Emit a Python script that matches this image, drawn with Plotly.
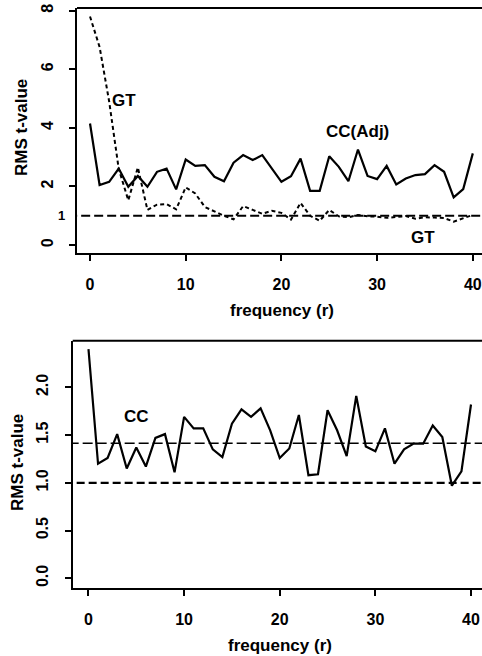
import plotly.graph_objects as go

freq = list(range(41))

cc_adj = [4.15, 2.05, 2.16, 2.61, 1.99, 2.36, 1.99, 2.50, 2.61, 1.90,
          2.92, 2.70, 2.73, 2.33, 2.18, 2.81, 3.07, 2.90, 3.07, 2.61,
          2.16, 2.35, 2.95, 1.85, 1.85, 3.03, 2.67, 2.18, 3.26, 2.36,
          2.25, 2.70, 2.07, 2.27, 2.39, 2.42, 2.73, 2.50, 1.63, 1.91, 3.13]

gt = [7.80, 6.76, 4.90, 2.60, 1.53, 2.65, 1.20, 1.38, 1.40, 1.22,
      1.97, 1.76, 1.30, 1.15, 1.00, 0.88, 1.33, 1.20, 1.07, 1.17,
      1.10, 0.87, 1.44, 1.00, 0.83, 1.20, 0.98, 0.95, 1.03, 0.98,
      0.97, 0.93, 0.96, 0.99, 0.90, 0.95, 0.94, 0.92, 0.80, 0.92, 1.03]

cc = [2.40, 1.20, 1.26, 1.51, 1.15, 1.37, 1.17, 1.47, 1.51, 1.11,
      1.69, 1.57, 1.57, 1.35, 1.27, 1.62, 1.77, 1.69, 1.78, 1.55,
      1.26, 1.36, 1.71, 1.08, 1.09, 1.76, 1.55, 1.28, 1.91, 1.38,
      1.33, 1.57, 1.20, 1.35, 1.41, 1.41, 1.60, 1.48, 0.97, 1.12, 1.82]

ref_top = 1.0
ref_bottom = [1.414, 1.0]

top_yticks = [0, 2, 4, 6, 8]
bottom_yticks = [0.0, 0.5, 1.0, 1.5, 2.0]
xticks = [0, 10, 20, 30, 40]

W, H = 482, 656
FONT = "Liberation Sans, Arial, Helvetica, sans-serif"

def px(x):
    return x / W

def py(y):
    return 1 - y / H

fig = go.Figure()

# top panel
fig.add_trace(go.Scatter(x=freq, y=cc_adj, mode="lines", line=dict(color="black", width=2.2),
                         xaxis="x", yaxis="y", showlegend=False))
fig.add_trace(go.Scatter(x=freq, y=gt, mode="lines", line=dict(color="black", width=2, dash="4px,3px"),
                         xaxis="x", yaxis="y", showlegend=False))
fig.add_trace(go.Scatter(x=[-5, 50], y=[ref_top, ref_top], mode="lines",
                         line=dict(color="black", width=2, dash="9px,4px"),
                         xaxis="x", yaxis="y", showlegend=False))

# bottom panel
fig.add_trace(go.Scatter(x=freq, y=cc, mode="lines", line=dict(color="black", width=2.2),
                         xaxis="x2", yaxis="y2", showlegend=False))
fig.add_trace(go.Scatter(x=[-5, 50], y=[ref_bottom[0]] * 2, mode="lines",
                         line=dict(color="black", width=1.5, dash="10px,4px"),
                         xaxis="x2", yaxis="y2", showlegend=False))
fig.add_trace(go.Scatter(x=[-5, 50], y=[ref_bottom[1]] * 2, mode="lines",
                         line=dict(color="black", width=2.2, dash="8px,4px"),
                         xaxis="x2", yaxis="y2", showlegend=False))

tickfont = dict(family=FONT, size=16, color="black", weight="bold")
axis_common = dict(showgrid=False, zeroline=False, showline=True, linecolor="black", linewidth=2,
                   ticks="outside", ticklen=6, tickwidth=1.5, tickcolor="black", tickfont=tickfont,
                   automargin=False)

fig.update_layout(
    width=W, height=H,
    margin=dict(l=0, r=0, t=0, b=0),
    paper_bgcolor="white", plot_bgcolor="white",
    xaxis=dict(domain=[px(77), 1], range=[-1.36, 40.96], anchor="y",
               tickvals=xticks, ticklabelstandoff=10, **axis_common),
    yaxis=dict(domain=[py(253), py(8)], range=[-0.27, 8.09], anchor="x",
               tickvals=top_yticks, tickangle=-90, ticklabelstandoff=10, **axis_common),
    xaxis2=dict(domain=[px(72.7), 1], range=[-1.65, 41.15], anchor="y2",
                tickvals=xticks, ticklabelstandoff=10, **axis_common),
    yaxis2=dict(domain=[py(587.7), py(340.7)], range=[-0.098, 2.488], anchor="x2",
                tickvals=bottom_yticks, tickformat=".1f", tickangle=-90, ticklabelstandoff=10,
                **axis_common),
)

shapes = [
    dict(type="line", xref="paper", yref="paper", x0=px(77), x1=1, y0=py(8), y1=py(8),
         line=dict(color="black", width=2)),
    dict(type="line", xref="paper", yref="paper", x0=px(72.7), x1=1, y0=py(340.7), y1=py(340.7),
         line=dict(color="black", width=2)),
]
fig.update_layout(shapes=shapes)

lab = dict(family=FONT, size=17, color="black", weight="bold")
centered = dict(showarrow=False, xanchor="center", yanchor="middle")
annotations = [
    dict(text="GT", x=3.6, y=4.95, xref="x", yref="y", font=lab, **centered),
    dict(text="CC(Adj)", x=27.9, y=3.86, xref="x", yref="y", font=lab, **centered),
    dict(text="GT", x=34.8, y=0.27, xref="x", yref="y", font=lab, **centered),
    dict(text="1", x=px(62), y=1, xref="paper", yref="y",
         font=dict(family=FONT, size=13, color="black", weight="bold"), **centered),
    dict(text="CC", x=5.07, y=1.69, xref="x2", yref="y2", font=lab, **centered),
    dict(text="RMS t-value", x=px(22), y=py(128), xref="paper", yref="paper",
         textangle=-90, font=lab, **centered),
    dict(text="RMS t-value", x=px(17), y=py(463), xref="paper", yref="paper",
         textangle=-90, font=lab, **centered),
    dict(text="frequency (r)", x=px(282), y=py(310), xref="paper", yref="paper",
         font=lab, **centered),
    dict(text="frequency (r)", x=px(280), y=py(645), xref="paper", yref="paper",
         font=lab, **centered),
]
fig.update_layout(annotations=annotations)

fig.write_html("out.html", config={"displayModeBar": False},
               post_script="document.body.style.margin='0';document.body.style.padding='0';")
